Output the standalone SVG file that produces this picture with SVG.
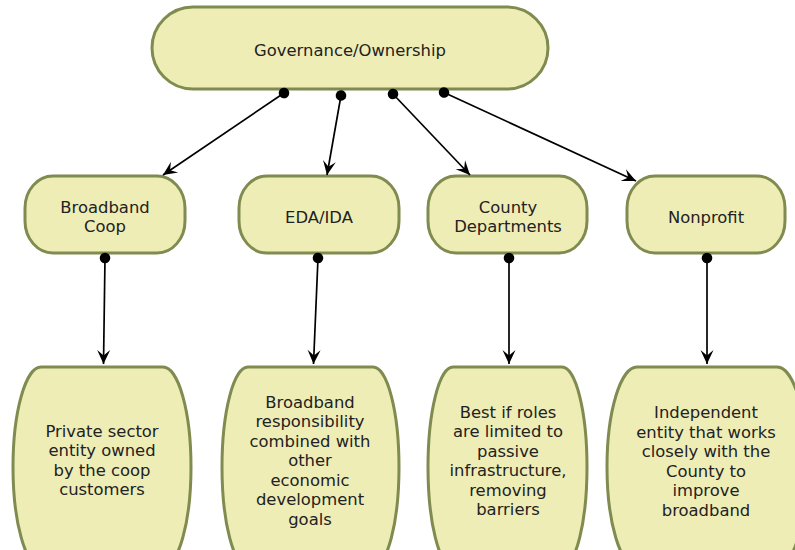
<svg xmlns="http://www.w3.org/2000/svg" width="795" height="550" viewBox="0 0 795 550">
  <style>
    .node { fill: #efedb6; stroke: #7f8b4f; stroke-width: 3; }
    .label { font-family: "DejaVu Sans", "Liberation Sans", sans-serif; font-size: 16.4px; fill: #222; text-anchor: middle; }
    .edge { stroke: #000; stroke-width: 1.7; fill: none; marker-start: url(#dot); marker-end: url(#arrow); }
  </style>
  <defs>
    <marker id="arrow" markerUnits="userSpaceOnUse" markerWidth="17" markerHeight="15" viewBox="-15 -7.5 17 15" refX="0" refY="0" orient="auto">
      <path d="M0,0 L-14,-6.5 L-8.5,0 L-14,6.5 Z" fill="#000"/>
    </marker>
    <marker id="dot" markerUnits="userSpaceOnUse" markerWidth="12" markerHeight="12" viewBox="-6 -6 12 12" refX="0" refY="0" orient="auto">
      <circle cx="0" cy="0" r="5.3" fill="#000"/>
    </marker>
  </defs>

  <rect width="795" height="550" fill="#fff"/>

  <!-- root -->
  <g id="governance">
    <rect class="node" x="152" y="7" width="396" height="82" rx="41" ry="41"/>
    <text class="label" x="350" y="56">Governance/Ownership</text>
  </g>

  <!-- second level -->
  <g id="broadband-coop">
    <rect class="node" x="25" y="176" width="160" height="77" rx="28" ry="32"/>
    <text class="label" x="105" y="212.5">Broadband</text>
    <text class="label" x="105" y="231.5">Coop</text>
  </g>
  <g id="eda-ida">
    <rect class="node" x="239" y="176" width="160" height="77" rx="28" ry="32"/>
    <text class="label" x="319" y="222.5">EDA/IDA</text>
  </g>
  <g id="county-departments">
    <rect class="node" x="428" y="176" width="159" height="77" rx="28" ry="32"/>
    <text class="label" x="508" y="212.5">County</text>
    <text class="label" x="508" y="231.5">Departments</text>
  </g>
  <g id="nonprofit">
    <rect class="node" x="627" y="176" width="158" height="77" rx="28" ry="32"/>
    <text class="label" x="706" y="222.5">Nonprofit</text>
  </g>

  <!-- descriptions -->
  <g id="coop-desc">
    <rect class="node" x="13" y="367" width="178" height="200" rx="28" ry="100"/>
    <text class="label" x="102" y="436.5">Private sector</text>
    <text class="label" x="102" y="456">entity owned</text>
    <text class="label" x="102" y="475.5">by the coop</text>
    <text class="label" x="102" y="495">customers</text>
  </g>
  <g id="eda-desc">
    <rect class="node" x="222" y="367" width="177" height="200" rx="26" ry="100"/>
    <text class="label" x="310" y="407.5">Broadband</text>
    <text class="label" x="310" y="427">responsibility</text>
    <text class="label" x="310" y="446.5">combined with</text>
    <text class="label" x="310" y="466">other</text>
    <text class="label" x="310" y="485.5">economic</text>
    <text class="label" x="310" y="505">development</text>
    <text class="label" x="310" y="524.5">goals</text>
  </g>
  <g id="county-desc">
    <rect class="node" x="428" y="367" width="159" height="200" rx="25" ry="100"/>
    <text class="label" x="508" y="417.5">Best if roles</text>
    <text class="label" x="508" y="437">are limited to</text>
    <text class="label" x="508" y="456.5">passive</text>
    <text class="label" x="508" y="476">infrastructure,</text>
    <text class="label" x="508" y="495.5">removing</text>
    <text class="label" x="508" y="515">barriers</text>
  </g>
  <g id="nonprofit-desc">
    <rect class="node" x="607" y="367" width="200" height="200" rx="30" ry="100"/>
    <text class="label" x="706" y="418">Independent</text>
    <text class="label" x="706" y="437.5">entity that works</text>
    <text class="label" x="706" y="457">closely with the</text>
    <text class="label" x="706" y="476.5">County to</text>
    <text class="label" x="706" y="496">improve</text>
    <text class="label" x="706" y="515.5">broadband</text>
  </g>

  <!-- connectors -->
  <g id="connectors">
    <line class="edge" x1="284" y1="93" x2="163" y2="175"/>
    <line class="edge" x1="341" y1="95.5" x2="327" y2="175"/>
    <line class="edge" x1="393" y1="94" x2="470" y2="175"/>
    <line class="edge" x1="444" y1="92.5" x2="636" y2="181"/>
    <line class="edge" x1="105" y1="258" x2="103.5" y2="364"/>
    <line class="edge" x1="318" y1="258" x2="313.5" y2="364"/>
    <line class="edge" x1="509" y1="258" x2="509" y2="364"/>
    <line class="edge" x1="707" y1="258" x2="707" y2="364"/>
  </g>
</svg>
